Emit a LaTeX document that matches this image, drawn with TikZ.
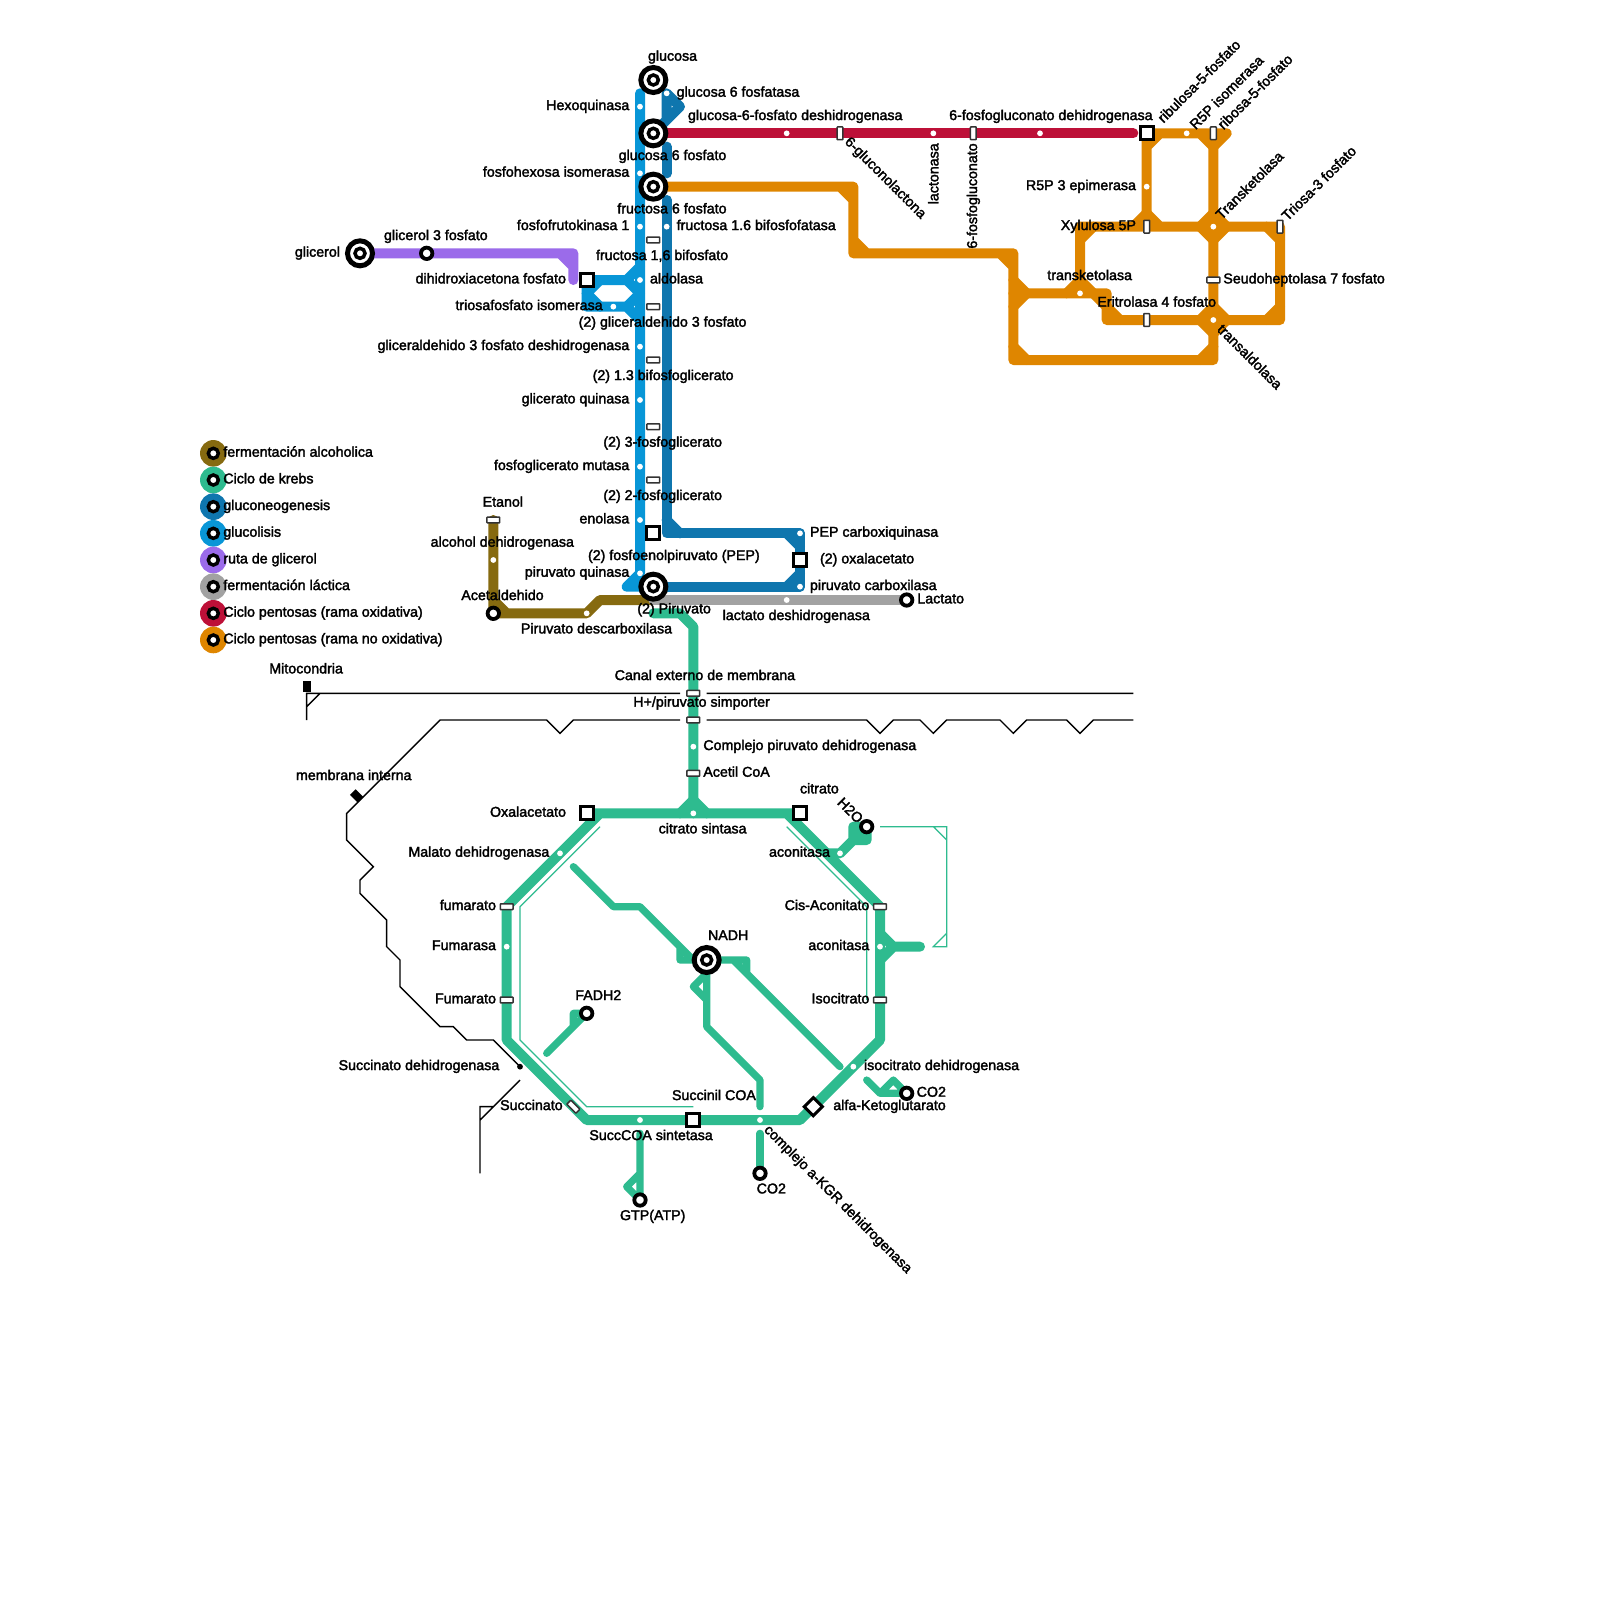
\documentclass[tikz,border=0pt]{standalone}
\usepackage{fontspec}
\setmainfont{Liberation Sans}[FakeBold=2.2]
\usetikzlibrary{backgrounds}
\definecolor{cglu}{HTML}{0896D7}
\definecolor{cneo}{HTML}{0F76AE}
\definecolor{cred}{HTML}{BD1038}
\definecolor{cora}{HTML}{DF8600}
\definecolor{cpur}{HTML}{9B6BEA}
\definecolor{cgry}{HTML}{A2A2A2}
\definecolor{cbro}{HTML}{866A10}
\definecolor{cgre}{HTML}{2EBB8F}
\pgfdeclarelayer{routes}
\pgfsetlayers{routes,main}
\tikzset{
  x=6.66667pt,y=-6.66667pt,
  every node/.style={inner sep=0pt,outer sep=0pt},
  route/.style={line width=5pt,line cap=round,line join=round},
  thinroute/.style={line width=3.6pt,line cap=round,line join=round,cgre},
  hair/.style={line width=.6pt,cgre},
  memb/.style={line width=.7pt,black},
  big/.style={circle,draw=black,fill=white,line width=2.5pt,minimum size=12.5pt},
  ring/.style={circle,draw=black,fill=white,line width=1.75pt,minimum size=5pt},
  smallst/.style={circle,draw=black,fill=white,line width=1.9pt,minimum size=5.7pt},
  sqst/.style={rectangle,draw=black,fill=white,line width=1.5pt,minimum size=6.4pt},
  hrect/.style={rectangle,rounded corners=.3pt,draw=black!80,fill=white,line width=.75pt,minimum width=6.4pt,minimum height=2.9pt},
  vrect/.style={rectangle,rounded corners=.3pt,draw=black!80,fill=white,line width=.75pt,minimum width=2.9pt,minimum height=6.4pt},
  wdot/.style={circle,fill=white,minimum size=2.9pt},
  txt/.style={font=\fontsize{7.12pt}{8pt}\selectfont,text=black},
  lw/.style={txt,anchor=base west,yshift=-1.7pt},
  le/.style={txt,anchor=base east,yshift=-1.7pt},
  ru/.style={txt,anchor=west,rotate=45},
  rd/.style={txt,anchor=west,rotate=-45},
  lege/.style={circle,minimum size=13.3pt},
}
\begin{document}
\begin{tikzpicture}
\useasboundingbox (0,0) rectangle (120,120);
% ---- stations
\foreach \n/\p in {glu/{49,6},gsp/{49,10},fsp/{49,14},pyr/{49,44},nadh/{53,72},glyc/{27,19}}
  {\node[big] (\n) at (\p) {}; \node[ring] (\n-i) at (\p) {};}
\foreach \n/\p in {gtf/{32,19},lact/{68,45},acet/{37,46},fadh/{44,76},coa/{68,82},cob/{57,88},gtp/{48,90},wat/{65,62}}
  \node[smallst] (\n) at (\p) {};
\foreach \n/\p in {dhap/{44,21},pep/{49,40},oxa/{60,42},rub/{86,10},oaa/{44,61},cit/{60,61},scoa/{52,84}}
  \node[sqst] (\n) at (\p) {};
\node[sqst,rotate=45] (akg) at (61,83) {};
\foreach \n/\p in {fbp/{49,18},gap/{49,23},bpg/{49,27},tpg/{49,32},dpg/{49,36},etoh/{37,39},canal/{52,52},simp/{52,54},acoa/{52,58},fumA/{38,68},fumB/{38,75},cis/{66,68},iso/{66,75},s7p/{91,21}}
  \node[hrect] (\n) at (\p) {};
\foreach \n/\p in {gluc/{63,10},pgl/{73,10},rib/{91,10},xyl/{86,17},tri/{96,17},eri/{86,24}}
  \node[vrect] (\n) at (\p) {};
\node[hrect,rotate=-45] (succ) at (43,83) {};
% ---- white dots
\foreach \a/\b in {48/8,50/7,48/13,48/17,50/17,48/21,46/23,48/26,48/30,48/35,48/39,48/43,60/40,60/44,59/45,44/46,37/42,59/10,70/10,78/10,86/14,89/10,91/17,81/22,91/24,52/56,52/61,42/64,63/64,38/71,66/71,64/80,48/84,57/84}
  \node[wdot] (d\a-\b) at (\a,\b) {};
\node[circle,fill=black,minimum size=2.9pt] (sdh) at (39,80) {};
% ---- routes
\begin{pgfonlayer}{routes}
\fill[white] (0,0) rectangle (120,120);
\draw[route,cpur] (glyc.center) -- (gtf.center) -- (43,19) -- (43,21) (42,19) -- (43,20);
\draw[route,cbro] (etoh.center) -- (d37-42.center) -- (acet.center) -- (d44-46.center) -- (45,45) -- (49,45) (37,45) -- (38,46);
\draw[route,cgry] (49,45) -- (d59-45.center) -- (lact.center);
\draw[route,cgre] (49,46) -- (51,46) -- (52,47) -- (canal.center) -- (simp.center) -- (d52-56.center) -- (acoa.center) -- (d52-61.center);
\draw[route,cgre] (oaa.center) -- (d52-61.center) -- (59,61) -- (cit.center) (59,61) -- (cis.center) -- (d66-71.center) -- (iso.center) -- (66,78) -- (60,84) -- (scoa.center) -- (44,84) -- (38,78) -- (fumB.center) -- (fumA.center) -- (d42-64.center) -- (45,61);
\draw[route,cgre] (51,61) -- (52,60) -- (53,61);
\draw[route,cgre] (62,64) -- (d63-64.center) -- (wat.center) -- (64,62) -- (64,63) -- (65,63) -- (wat.center);
\draw[route,cgre] (66,70) -- (67,71) -- (66,72) (67,71) -- (69,71);
\draw[route,cneo] (50,7) -- (51,8) -- (50,9) -- (gsp.center) (50,7) -- (50,9);
\draw[route,cneo] (50,11) -- (50,13);
\draw[route,cneo] (50,15) -- (50,40) -- (d60-40.center) -- (oxa.center) -- (d60-44.center) -- (pyr.center);
\draw[route,cneo] (50,39) -- (51,40) (59,40) -- (60,41) (60,43) -- (59,44);
\draw[route,cglu] (48,7) -- (48,43) -- (47,44) -- (pyr.center);
\draw[route,cglu] (dhap.center) -- (47,21) -- (48,20) (dhap.center) -- (44,23) -- (47,23) -- (48,24);
\draw[route,cglu] (45,21) -- (44,22) -- (45,23) (47,21) -- (48,22) -- (47,23);
\draw[route,cred] (gsp.center) -- (85,10);
\draw[route,cora] (fsp.center) -- (64,14) -- (64,19) -- (76,19) -- (76,27) -- (91,27) -- (91,11) (63,14) -- (64,15) (64,18) -- (65,19) (75,19) -- (76,20);
\draw[route,cora] (76,26) -- (77,27) (90,27) -- (91,26) (90,24) -- (91,25) -- (92,24) -- (91,23) -- (90,24);
\draw[route,cora] (rub.center) -- (92,10) -- (91,11) (rub.center) -- (86,17) (86,11) -- (87,10) (90,10) -- (91,11);
\draw[route,cora] (85,17) -- (86,16) -- (87,17) (81,22) -- (81,17) -- (tri.center) -- (96,24) -- (83,24) -- (83,22) -- (76,22);
\draw[route,cora] (81,18) -- (82,17) (95,17) -- (96,18) (95,24) -- (96,23) (83,23) -- (84,24) (82,22) -- (83,23);
\draw[route,cora] (90,17) -- (91,16) -- (92,17) -- (91,18) -- (90,17);
\draw[route,cora] (80,22) -- (81,21) -- (82,22) (76,21) -- (77,22) -- (76,23);
\draw[thinroute] (43,65) -- (46,68) -- (48,68) -- (52,72) (51,71) -- (51,72) -- (nadh.center);
\draw[thinroute] (nadh.center) -- (56,72) -- (56,73) (55,72) -- (63,80);
\draw[thinroute] (nadh.center) -- (53,77) -- (57,81) -- (57,83) (53,73) -- (52,74) -- (53,75);
\draw[thinroute] (43,76) -- (fadh.center) -- (41,79) (43,76) -- (43,77);
\draw[thinroute] (65,81) -- (66,82) -- (coa.center) -- (67,81) -- (66,82);
\draw[thinroute] (48,85) -- (gtp.center) -- (47,89) -- (48,88);
\draw[thinroute] (57,85) -- (cob.center);
% thin lines
\draw[hair] (45,62) -- (39,68) -- (39,78) -- (44,83) -- (52,83);
\draw[hair] (59,62) -- (65,68) -- (65,75);
\draw[hair] (66,62) -- (71,62) -- (71,71) -- (70,71) -- (71,70) (70,62) -- (71,63);
% membranes
\draw[memb] (23,54) -- (23,52) -- (51,52) (53,52) -- (85,52) (24,52) -- (23,53);
\draw[memb] (51,54) -- (43,54) -- (42,55) -- (41,54) -- (33,54) -- (26,61) -- (26,63) -- (28,65) -- (27,66) -- (27,67) -- (29,69) -- (29,71) -- (30,72) -- (30,74) -- (33,77) -- (34,77) -- (35,78) -- (37,78) -- (sdh.center);
\draw[memb] (53,54) -- (65,54) -- (66,55) -- (67,54) -- (69,54) -- (70,55) -- (71,54) -- (75,54) -- (76,55) -- (77,54) -- (80,54) -- (81,55) -- (82,54) -- (85,54);
\draw[memb] (39,81) -- (36,84) -- (36,88) (36,84) -- (36,83) -- (37,83);
\end{pgfonlayer}
\node[fill=black,minimum width=4pt,minimum height=5.5pt] (mito) at (23,51.5) {};
\node[fill=black,minimum width=4pt,minimum height=5.5pt,rotate=45] (inner) at (26.75,59.7) {};
% ---- legend
\foreach \n/\c/\y/\t in {a/cbro/34/fermentación alcoholica,b/cgre/36/Ciclo de krebs,c/cneo/38/gluconeogenesis,d/cglu/40/glucolisis,e/cpur/42/ruta de glicerol,f/cgry/44/fermentación láctica,g/cred/46/Ciclo pentosas (rama oxidativa),h/cora/48/Ciclo pentosas (rama no oxidativa)}
 {\node[lege,fill=\c] (leg\n) at (16,\y) {}; \node[ring] (legi\n) at (16,\y) {}; \node[lw] (legt\n) at (16.75,\y) {\t};}
% ---- labels
\node[lw] (t1) at (48.6,4.3) {glucosa};
\node[le] (t2) at (47.2,8) {Hexoquinasa};
\node[lw] (t3) at (50.75,7) {glucosa 6 fosfatasa};
\node[lw] (t4) at (51.6,8.75) {glucosa-6-fosfato deshidrogenasa};
\node[lw] (t5) at (46.4,11.75) {glucosa 6 fosfato};
\node[le] (t6) at (47.2,13) {fosfohexosa isomerasa};
\node[lw] (t7) at (46.3,15.75) {fructosa 6 fosfato};
\node[le] (t8) at (47.2,17) {fosfofrutokinasa 1};
\node[lw] (t9) at (50.75,17) {fructosa 1.6 bifosfofatasa};
\node[lw] (t10) at (44.7,19.25) {fructosa 1,6 bifosfato};
\node[le] (t11) at (42.45,21) {dihidroxiacetona fosfato};
\node[lw] (t12) at (48.75,21) {aldolasa};
\node[le] (t13) at (45.2,23) {triosafosfato isomerasa};
\node[lw] (t14) at (43.4,24.25) {(2) gliceraldehido 3 fosfato};
\node[le] (t15) at (47.2,26) {gliceraldehido 3 fosfato deshidrogenasa};
\node[lw] (t16) at (44.45,28.25) {(2) 1.3 bifosfoglicerato};
\node[le] (t17) at (47.2,30) {glicerato quinasa};
\node[lw] (t18) at (45.25,33.25) {(2) 3-fosfoglicerato};
\node[le] (t19) at (47.2,35) {fosfoglicerato mutasa};
\node[lw] (t20) at (45.25,37.25) {(2) 2-fosfoglicerato};
\node[le] (t21) at (47.2,39) {enolasa};
\node[lw] (t22) at (44.1,41.75) {(2) fosfoenolpiruvato (PEP)};
\node[le] (t23) at (47.2,43) {piruvato quinasa};
\node[lw] (t24) at (60.75,40) {PEP carboxiquinasa};
\node[lw] (t25) at (61.5,42) {(2) oxalacetato};
\node[lw] (t26) at (60.75,44) {piruvato carboxilasa};
\node[lw] (t27) at (68.8,45) {Lactato};
\node[lw] (t28) at (54.2,46.25) {lactato deshidrogenasa};
\node[lw] (t29) at (47.8,45.75) {(2) Piruvato};
\node[lw] (t30) at (39.07,47.25) {Piruvato descarboxilasa};
\node[lw] (t31) at (36.2,37.75) {Etanol};
\node[lw] (t32) at (32.3,40.75) {alcohol dehidrogenasa};
\node[lw] (t33) at (34.6,44.75) {Acetaldehido};
\node[le] (t34) at (25.5,19) {glicerol};
\node[lw] (t35) at (28.8,17.75) {glicerol 3 fosfato};
\node[rd] (t36) at (63.5,10.5) {6-gluconolactona};
\node[txt,anchor=east,rotate=90] (t37) at (70,10.75) {lactonasa};
\node[txt,anchor=east,rotate=90] (t38) at (73,10.75) {6-fosfogluconato};
\node[le] (t39) at (86.45,8.75) {6-fosfogluconato dehidrogenasa};
\node[ru] (t40) at (87,9) {ribulosa-5-fosfato};
\node[ru] (t41) at (89.4,9.5) {R5P isomerasa};
\node[ru] (t42) at (91.5,9.5) {ribosa-5-fosfato};
\node[le] (t43) at (85.2,14) {R5P 3 epimerasa};
\node[le] (t44) at (85.2,17) {Xylulosa 5P};
\node[ru] (t45) at (91.35,16.25) {Transketolasa};
\node[ru] (t46) at (96.3,16.35) {Triosa-3 fosfato};
\node[lw] (t47) at (78.55,20.75) {transketolasa};
\node[lw] (t48) at (91.75,21) {Seudoheptolasa 7 fosfato};
\node[lw] (t49) at (82.3,22.75) {Eritrolasa 4 fosfato};
\node[rd] (t50) at (91.5,24.5) {transaldolasa};
\node[lw] (t51) at (20.2,50.25) {Mitocondria};
\node[lw] (t52) at (46.1,50.75) {Canal externo de membrana};
\node[lw] (t53) at (47.5,52.75) {H+/piruvato simporter};
\node[lw] (t54) at (52.75,56) {Complejo piruvato dehidrogenasa};
\node[lw] (t55) at (52.75,58) {Acetil CoA};
\node[lw] (t56) at (22.2,58.25) {membrana interna};
\node[le] (t57) at (42.45,61) {Oxalacetato};
\node[lw] (t58) at (49.4,62.25) {citrato sintasa};
\node[lw] (t59) at (60,59.25) {citrato};
\node[rd] (t60) at (63,60) {H2O};
\node[le] (t61) at (62.25,64) {aconitasa};
\node[le] (t62) at (41.2,64) {Malato dehidrogenasa};
\node[le] (t63) at (65.2,68) {Cis-Aconitato};
\node[le] (t64) at (65.2,71) {aconitasa};
\node[le] (t65) at (65.2,75) {Isocitrato};
\node[le] (t66) at (37.2,68) {fumarato};
\node[le] (t67) at (37.2,71) {Fumarasa};
\node[le] (t68) at (37.2,75) {Fumarato};
\node[lw] (t69) at (53.1,70.25) {NADH};
\node[lw] (t70) at (43.15,74.75) {FADH2};
\node[le] (t71) at (37.45,80) {Succinato dehidrogenasa};
\node[le] (t72) at (42.2,83) {Succinato};
\node[lw] (t73) at (50.4,82.25) {Succinil COA};
\node[lw] (t74) at (44.2,85.25) {SuccCOA sintetasa};
\node[lw] (t75) at (46.5,91.25) {GTP(ATP)};
\node[lw] (t76) at (56.75,89.25) {CO2};
\node[rd] (t77) at (57.45,84.6) {complejo a-KGR dehidrogenasa};
\node[lw] (t78) at (64.8,80) {isocitrato dehidrogenasa};
\node[lw] (t79) at (62.5,83) {alfa-Ketoglutarato};
\node[lw] (t80) at (68.75,82) {CO2};
\end{tikzpicture}
\end{document}
